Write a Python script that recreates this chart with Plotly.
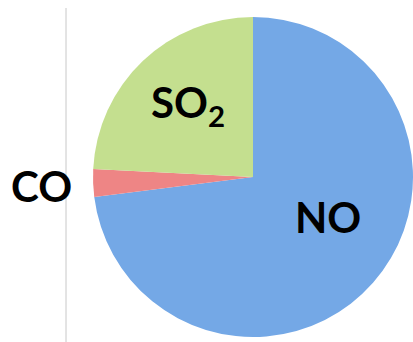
import plotly.graph_objects as go

# Emission shares by pollutant (percent)
pollutants = ["NO", "CO", "SO2"]
shares = [73.0, 2.8, 24.2]
slice_colors = ["#74a8e6", "#ee8585", "#c4df8f"]

W, H = 413, 342

fig = go.Figure(
    go.Pie(
        labels=pollutants,
        values=shares,
        sort=False,
        direction="clockwise",
        rotation=0,
        textinfo="none",
        hoverinfo="label+percent",
        marker=dict(colors=slice_colors, line=dict(width=0)),
        domain=dict(x=[93 / W, 1.0], y=[(H - 337) / H, (H - 17) / H]),
        showlegend=False,
    )
)

label_font = dict(family="Lato, 'Open Sans', sans-serif", size=42, color="black")


def add_label(text, cx, cy):
    fig.add_annotation(x=cx / W, y=1 - cy / H, xref="paper", yref="paper",
                       xanchor="center", yanchor="middle",
                       text=text, showarrow=False, font=label_font)


add_label("<b>NO</b>", 328, 217)
add_label("<b>SO<sub>2</sub></b>", 188, 105)
add_label("<b>CO</b>", 41, 186)

# thin vertical axis rule on the left
fig.add_shape(type="line", xref="paper", yref="paper",
              x0=66 / W, x1=66 / W, y0=0, y1=1 - 8 / H,
              line=dict(color="#c8c8c8", width=1))

fig.update_layout(
    width=W, height=H,
    margin=dict(l=0, r=0, t=0, b=0),
    paper_bgcolor="white",
    plot_bgcolor="white",
)

fig.write_html("out.html")
